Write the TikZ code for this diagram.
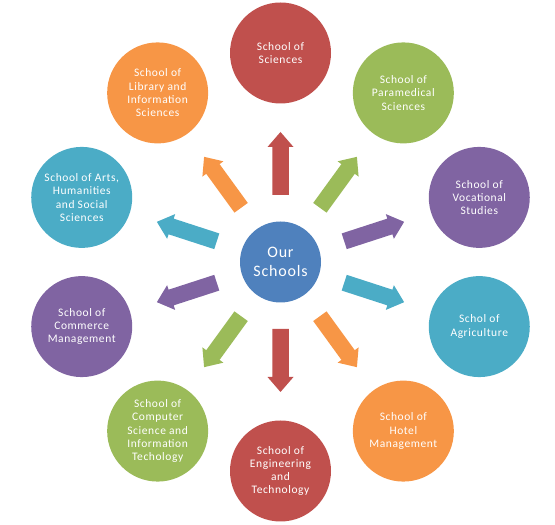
\documentclass[tikz,border=0pt]{standalone}
\usepackage{fontspec}
\setmainfont{Carlito}[LetterSpace=5]
\usetikzlibrary{calc}
\definecolor{cred}{HTML}{C0504D}
\definecolor{cgreen}{HTML}{9BBB59}
\definecolor{cpurple}{HTML}{8064A2}
\definecolor{cteal}{HTML}{4BACC6}
\definecolor{corange}{HTML}{F79646}
\definecolor{cblue}{HTML}{4F81BD}
\tikzset{
  school/.style={circle, minimum size=101pt, inner sep=0pt, text=white, align=center, font=\fontsize{11.5}{13.3}\selectfont},
  hub/.style={circle, minimum size=81pt, inner sep=0pt, fill=cblue, text=white, align=center, font=\fontsize{16}{19}\selectfont},
}
\begin{document}
\begin{tikzpicture}[x=1pt,y=1pt]
\useasboundingbox (0,0) rectangle (555,525);
\coordinate (c) at (280.5,263);
\node[hub] (hub) at (c) {Our\\Schools};
\foreach \ang/\col/\nm/\txt in {
  90/cred/sci/{School of\\Sciences},
  54/cgreen/para/{School of\\Paramedical\\Sciences},
  18/cpurple/voc/{School of\\Vocational\\Studies},
  -18/cteal/agri/{Schol of\\Agriculture},
  -54/corange/hotel/{School of\\Hotel\\Management},
  -90/cred/eng/{School of\\Engineering\\and\\Technology},
  -126/cgreen/comp/{School of\\Computer\\Science and\\Information\\Techology},
  -162/cpurple/comm/{School of\\Commerce\\Management},
  162/cteal/arts/{School of Arts,\\Humanities\\and Social\\Sciences},
  126/corange/lib/{School of\\Library and\\Information\\Sciences}}
{
  \node[school, fill=\col] (\nm) at ($(c)+(\ang:209)$) {\txt};
  \begin{scope}[shift={(c)}, rotate=\ang]
    \fill[\col] (67,-8.25) -- (115,-8.25) -- (115,-13) -- (130,0) -- (115,13) -- (115,8.25) -- (67,8.25) -- cycle;
  \end{scope}
}
\end{tikzpicture}
\end{document}
